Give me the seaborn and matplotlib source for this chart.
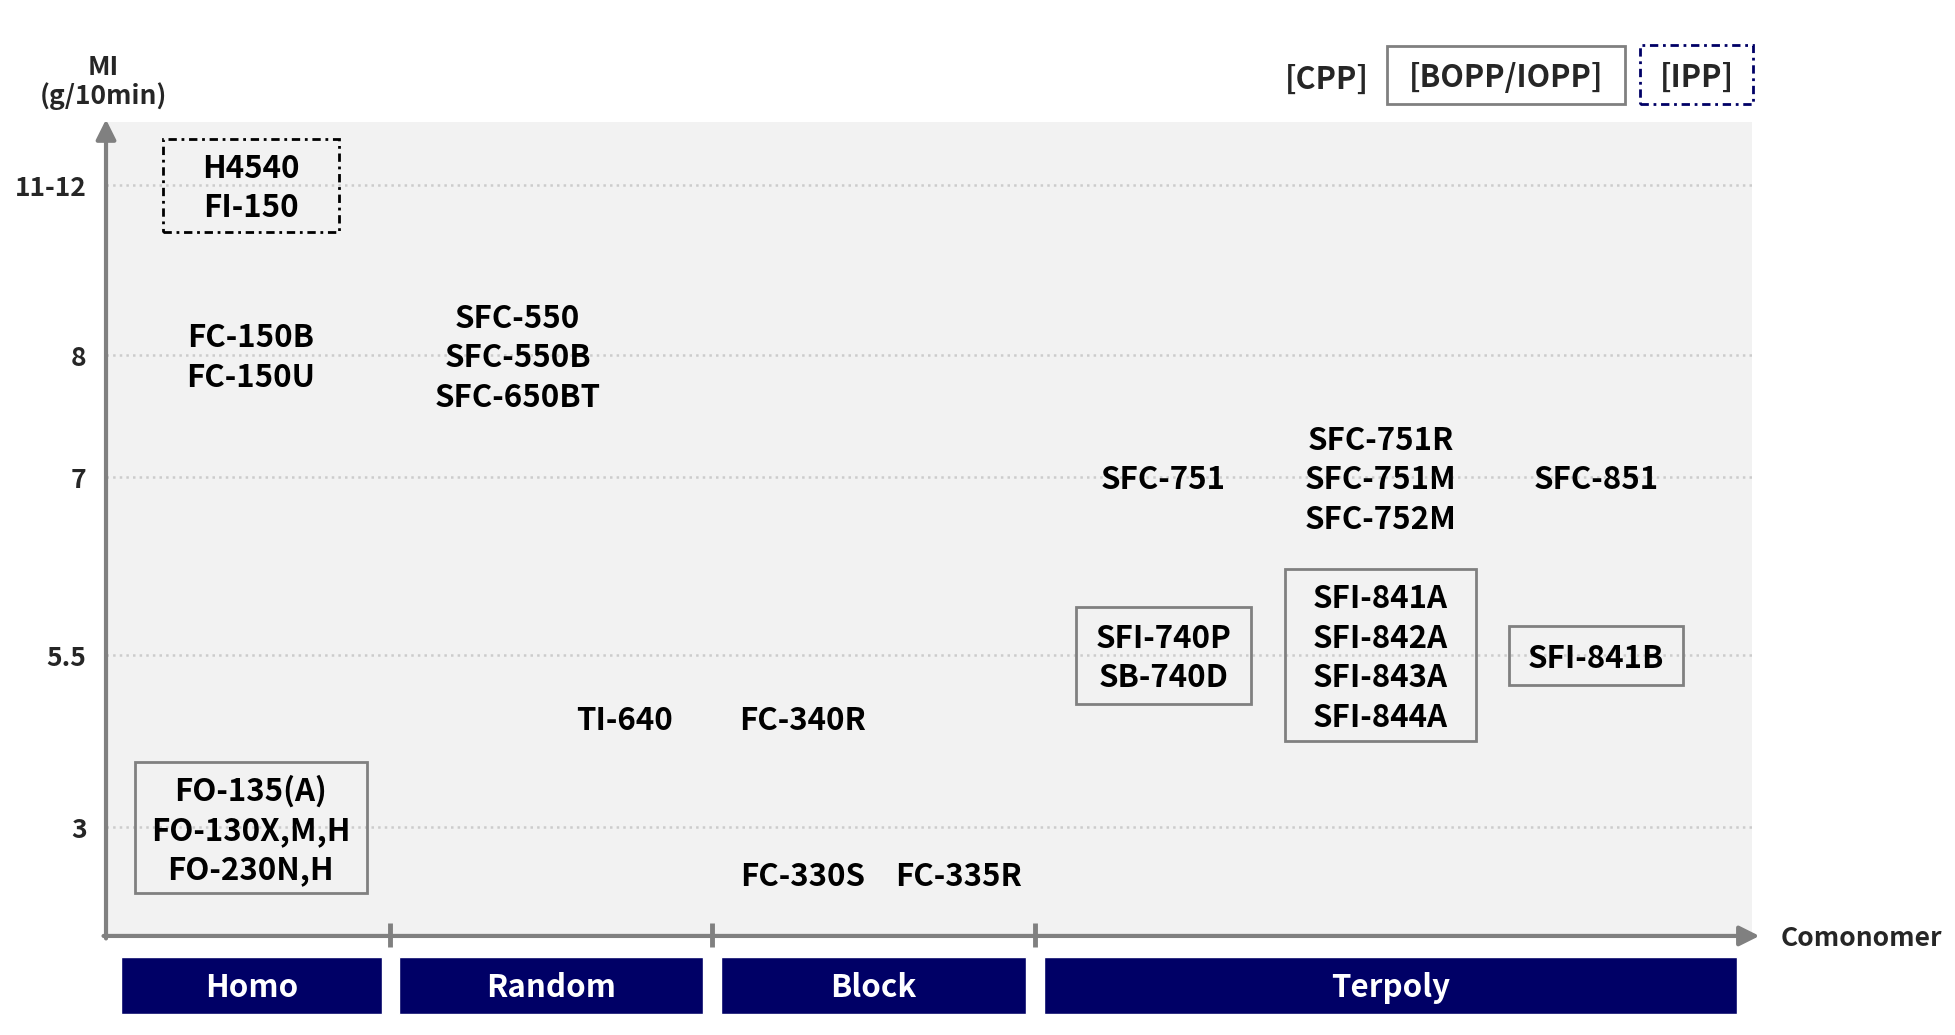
import numpy as np
import matplotlib
matplotlib.use("Agg")
import matplotlib.pyplot as plt
from matplotlib.patches import Rectangle
import seaborn as sns

# MI axis (g/10min)
mi_ticks = [3, 5.5, 7, 8, 11.5]
mi_tick_labels = ["3", "5.5", "7", "8", "11-12"]

# comonomer type
categories = ["Homo", "Random", "Block", "Terpoly"]

# grade groups
grade_names = [
    ["H4540", "FI-150"],
    ["FC-150B", "FC-150U"],
    ["FO-135(A)", "FO-130X,M,H", "FO-230N,H"],
    ["SFC-550", "SFC-550B", "SFC-650BT"],
    ["TI-640"],
    ["FC-340R"],
    ["FC-330S"],
    ["FC-335R"],
    ["SFC-751"],
    ["SFC-751R", "SFC-751M", "SFC-752M"],
    ["SFC-851"],
    ["SFI-740P", "SB-740D"],
    ["SFI-841A", "SFI-842A", "SFI-843A", "SFI-844A"],
    ["SFI-841B"],
]
grade_slot = [0, 0, 0, 1, 2, 3, 3, 4, 5, 6, 7, 5, 6, 7]
grade_mi = [11.5, 8, 3, 8, 4.6, 4.6, 2.15, 2.15, 7, 7, 7, 5.5, 5.5, 5.5]
grade_use = ["IPP", "CPP", "BOPP/IOPP", "CPP", "CPP", "CPP", "CPP", "CPP",
             "CPP", "CPP", "CPP", "BOPP/IOPP", "BOPP/IOPP", "BOPP/IOPP"]

# ---- layout ----
slot_x = [1.16, 3.30, 4.16, 5.59, 6.84, 8.48, 10.22, 11.95]
bounds = [0, 2.28, 4.86, 7.45, 13.2]
box_size = {0: (1.41, 0.75), 2: (1.86, 1.05), 11: (1.40, 0.78),
            12: (1.53, 1.38), 13: (1.40, 0.47)}
NAVY = "#000066"
GRAY = "#808080"
DASHDOT = (0, (3, 1.7, 1, 1.7))
TEXT_DY = -0.025  # glyphs sit a little high with va="center"


def to_row(mi):
    return np.interp(mi, [1, 3, 5.5, 7, 8, 11.5], [0, 0.87, 2.25, 3.68, 4.66, 6.02])


sns.set_style("whitegrid", {"axes.facecolor": "#f2f2f2", "grid.color": "#cccccc",
                            "grid.linestyle": ":"})
plt.rcParams["font.family"] = ["Noto Sans CJK KR", "DejaVu Sans"]
plt.rcParams["font.weight"] = "bold"

fig = plt.figure(figsize=(19.56, 10.35), dpi=100)
ax = fig.add_axes([0.0542, 0.0957, 0.8415, 0.7865])
ax.set_xlim(0, 13.2)
ax.set_ylim(0, 6.53)
for s in ax.spines.values():
    s.set_visible(False)
ax.set_xticks([])
ax.set_yticks(to_row(np.array(mi_ticks)), mi_tick_labels)
ax.tick_params(axis="y", length=0, pad=14, labelsize=19)
ax.grid(axis="y", lw=1.8)

# axis arrows
arrow = dict(arrowstyle="-|>", color=GRAY, lw=3, shrinkA=0, shrinkB=0, mutation_scale=30)
ax.annotate("", xy=(0, 6.55), xytext=(0, -0.02), arrowprops=arrow, annotation_clip=False)
ax.annotate("", xy=(13.26, 0), xytext=(-0.02, 0), arrowprops=arrow, annotation_clip=False)
ax.vlines(bounds[1:-1], -0.09, 0.10, color=GRAY, lw=3.5, clip_on=False)

ax.text(-0.02, 6.85, "MI\n(g/10min)", ha="center", va="center", fontsize=19,
        linespacing=1.05)
ax.text(14.08, -0.02, "Comonomer", ha="center", va="center", fontsize=19)

# comonomer bars
lefts = [b + (0.12 if i == 0 else 0.07) for i, b in enumerate(bounds[:-1])]
rights = [b - (0.12 if i == len(bounds) - 2 else 0.07) for i, b in enumerate(bounds[1:])]
centers = [(l + r) / 2 for l, r in zip(lefts, rights)]
widths = [r - l for l, r in zip(lefts, rights)]
ax.bar(centers, 0.46, bottom=-0.63, width=widths, color=NAVY, clip_on=False)
for c, name in zip(centers, categories):
    ax.text(c, -0.42, name, ha="center", va="center", color="white", fontsize=22.5)

# grades
for i, names in enumerate(grade_names):
    x = slot_x[grade_slot[i]]
    y = to_row(grade_mi[i])
    ax.text(x, y + TEXT_DY, "\n".join(names), ha="center", va="center", fontsize=22.5,
            linespacing=1.3, color="black")
    if i in box_size:
        w, h = box_size[i]
        if grade_use[i] == "IPP":
            rect = Rectangle((x - w / 2, y - h / 2), w, h, fill=False, ec="black",
                             lw=2, ls=DASHDOT, clip_on=False)
        else:
            rect = Rectangle((x - w / 2, y - h / 2), w, h, fill=False, ec=GRAY,
                             lw=2, clip_on=False)
        ax.add_patch(rect)

# legend
ax.text(9.79, 6.89 + TEXT_DY, "[CPP]", ha="center", va="center", fontsize=22)
ax.text(11.225, 6.905 + TEXT_DY, "[BOPP/IOPP]", ha="center", va="center", fontsize=22)
ax.add_patch(Rectangle((11.225 - 0.955, 6.905 - 0.235), 1.91, 0.47, fill=False,
                       ec=GRAY, lw=2, clip_on=False))
ax.text(12.755, 6.91 + TEXT_DY, "[IPP]", ha="center", va="center", fontsize=22)
ax.add_patch(Rectangle((12.755 - 0.455, 6.91 - 0.24), 0.91, 0.48, fill=False,
                       ec=NAVY, lw=2, ls=DASHDOT, clip_on=False))

fig.savefig("out.png", dpi=100, facecolor="white")
